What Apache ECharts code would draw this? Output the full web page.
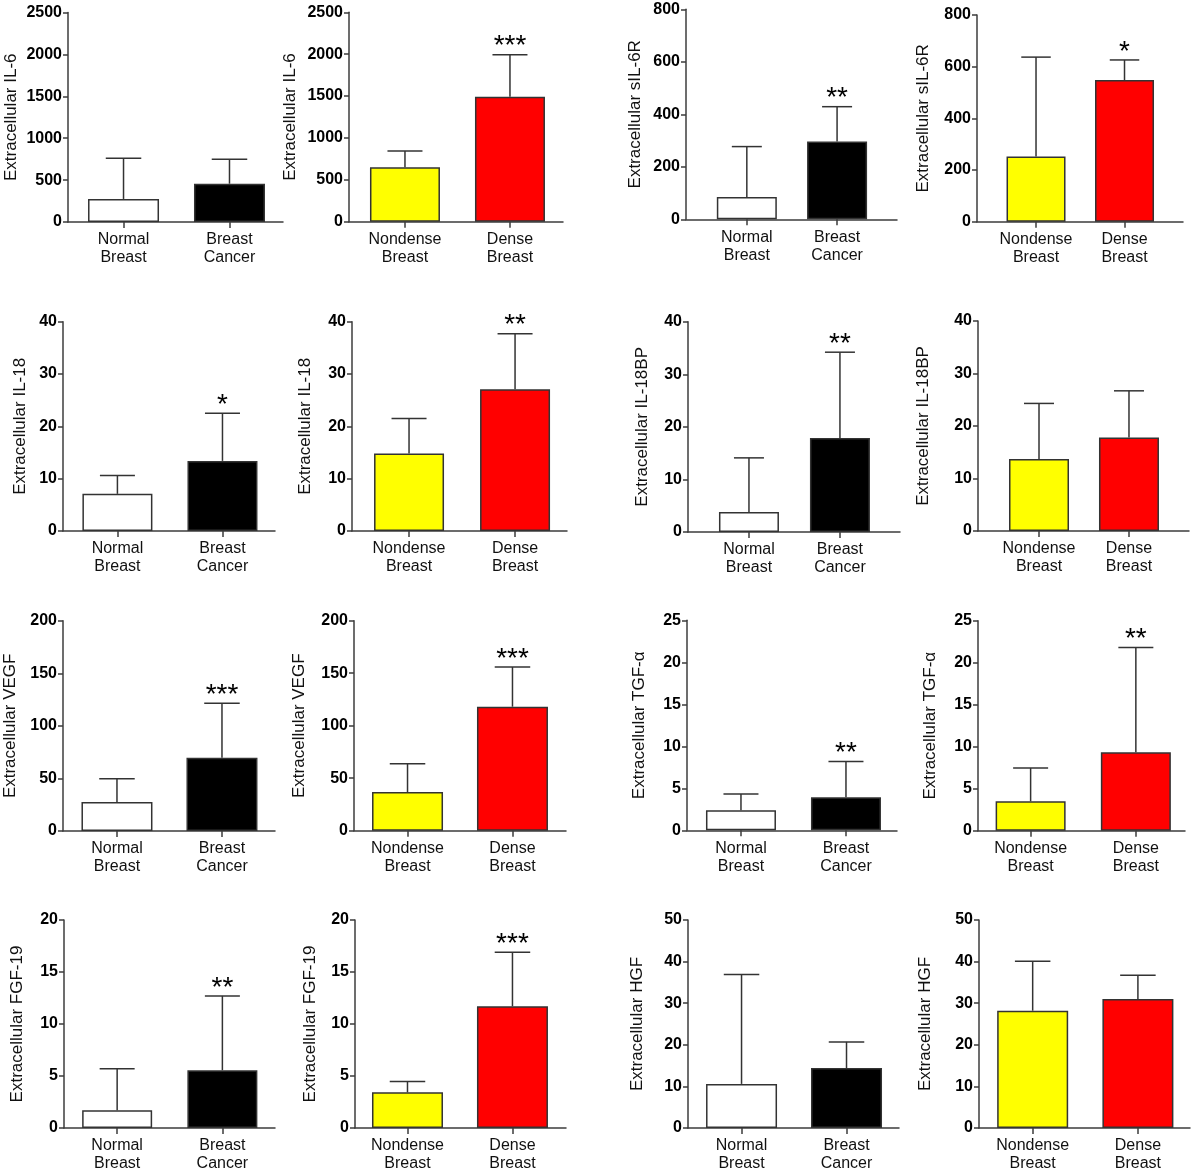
<!DOCTYPE html>
<html><head><meta charset="utf-8">
<script src="https://cdn.jsdelivr.net/npm/echarts@6/dist/echarts.min.js"></script>
<style>html,body{margin:0;padding:0;background:#fff}#c{width:1192px;height:1173px}</style>
</head><body><div id="c"></div>
<script>
// ---- data ----
const yTitles = [
  'Extracellular IL-6','Extracellular IL-6','Extracellular sIL-6R','Extracellular sIL-6R',
  'Extracellular IL-18','Extracellular IL-18','Extracellular IL-18BP','Extracellular IL-18BP',
  'Extracellular VEGF','Extracellular VEGF','Extracellular TGF-α','Extracellular TGF-α',
  'Extracellular FGF-19','Extracellular FGF-19','Extracellular HGF','Extracellular HGF'
];
const categoriesCancer = ['Normal\nBreast', 'Breast\nCancer'];
const categoriesDensity = ['Nondense\nBreast', 'Dense\nBreast'];
const panelComparison = ['cancer','density','cancer','density','cancer','density','cancer','density',
  'cancer','density','cancer','density','cancer','density','cancer','density'];
const meanValues = [
  [275, 457], [650, 1493], [85, 296], [252, 548],
  [7.1, 13.4], [14.8, 27.1], [3.8, 17.9], [13.7, 17.8],
  [27.5, 69.6], [36.8, 118.1], [2.4, 3.93], [3.5, 9.33],
  [1.7, 5.56], [3.43, 11.7], [10.6, 14.4], [28.2, 31.0]
];
const upperErrorValues = [
  [761, 749], [845, 1994], [277, 429], [637, 626],
  [10.6, 22.5], [21.5, 37.7], [14.1, 34.2], [24.3, 26.7],
  [49.7, 121.5], [63.8, 155.9], [4.32, 8.2], [7.46, 21.8],
  [5.7, 12.7], [4.48, 16.9], [36.9, 20.7], [40.1, 36.7]
];
const significance = [
  ['', ''], ['', '***'], ['', '**'], ['', '*'],
  ['', '*'], ['', '**'], ['', '**'], ['', ''],
  ['', '***'], ['', '***'], ['', '**'], ['', '**'],
  ['', '**'], ['', '***'], ['', ''], ['', '']
];
const yMaxValues = [2500, 2500, 800, 800, 40, 40, 40, 40, 200, 200, 25, 25, 20, 20, 50, 50];
const yIntervals = [500, 500, 200, 200, 10, 10, 10, 10, 50, 50, 5, 5, 5, 5, 10, 10];
const colorsCancer = ['#ffffff', '#000000'];
const colorsDensity = ['#ffff00', '#ff0000'];

// ---- layout (pixels) ----
const axisX  = [68, 349, 686, 977, 63, 352, 688, 978, 63, 354, 687, 978, 64, 355, 688, 979];
const axisR  = [283, 563, 897, 1183, 275, 567, 900, 1189, 275, 566, 897, 1185, 275, 566, 899, 1190];
const axisT  = [12.5, 12.3, 9.3, 15, 321.7, 321.7, 321.7, 321, 620.7, 620.7, 620.3, 620.7, 920, 920, 920, 920];
const axisB  = [222, 221.7, 219.3, 221.7, 531, 531, 532, 531, 831, 830.7, 830.3, 830.7, 1130, 1130, 1130, 1130];
const barW   = [71, 70, 60, 59, 70, 70, 60, 60, 71, 71, 70, 70, 70, 71, 71, 71];
const xMinP  = [-0.524, -0.533, -0.674, -0.667, -0.518, -0.538, -0.67, -0.678, -0.514, -0.51, -0.514, -0.5, -0.505, -0.5, -0.51, -0.51];
const xMaxP  = [1.505, 1.505, 1.664, 1.661, 1.5, 1.49, 1.66, 1.667, 1.505, 1.51, 1.486, 1.467, 1.5, 1.51, 1.5, 1.495];
const nameGaps = [48, 50, 42, 45, 34, 38, 37, 46, 44, 46, 39, 39, 38, 36, 42, 45];

const FONT = '"Liberation Sans", Arial, Helvetica, sans-serif';
const AXIS_COLOR = '#3c3c3c';

const grid = [], xAxis = [], yAxis = [], series = [];
for (let i = 0; i < 16; i++) {
  const cats = panelComparison[i] === 'cancer' ? categoriesCancer : categoriesDensity;
  const cols = panelComparison[i] === 'cancer' ? colorsCancer : colorsDensity;
  grid.push({ left: axisX[i], top: axisT[i], width: axisR[i] - axisX[i], height: axisB[i] - axisT[i] });
  xAxis.push({
    type: 'value', gridIndex: i, min: xMinP[i], max: xMaxP[i],
    axisLine: { show: true, onZero: false, lineStyle: { color: AXIS_COLOR, width: 1.5 } },
    axisTick: { show: true, customValues: [0, 1], length: 6, lineStyle: { color: AXIS_COLOR, width: 1.5 } },
    axisLabel: {
      customValues: [0, 1], formatter: v => cats[Math.round(v)] || '',
      margin: 9, fontSize: 16, lineHeight: 18, color: '#111', fontFamily: FONT
    },
    splitLine: { show: false }
  });
  yAxis.push({
    type: 'value', gridIndex: i, min: 0, max: yMaxValues[i], interval: yIntervals[i],
    name: yTitles[i], nameLocation: 'middle', nameGap: nameGaps[i],
    nameTextStyle: { fontSize: 17, color: '#111', fontFamily: FONT },
    axisLine: { show: true, onZero: false, lineStyle: { color: AXIS_COLOR, width: 1.5 } },
    axisTick: { show: true, length: 5, lineStyle: { color: AXIS_COLOR, width: 1.5 } },
    axisLabel: { fontSize: 16, fontWeight: 'bold', color: '#000', fontFamily: FONT, margin: 6,
      formatter: v => String(v) },
    splitLine: { show: false }
  });
  series.push({
    type: 'bar', xAxisIndex: i, yAxisIndex: i, barWidth: barW[i], silent: true, z: 2,
    data: meanValues[i].map((v, j) => ({ value: [j, v], itemStyle: { color: cols[j] } })),
    itemStyle: { borderColor: '#333', borderWidth: 1.5 }
  });
  const stars = significance[i];
  const capHalf = barW[i] * 0.25;
  series.push({
    type: 'custom', xAxisIndex: i, yAxisIndex: i, silent: true, z: 3,
    data: meanValues[i].map((v, j) => [j, v, upperErrorValues[i][j]]),
    encode: { x: 0, y: [1, 2] },
    renderItem: (params, api) => {
      const x = api.value(0);
      const base = api.coord([x, api.value(1)]);
      const top = api.coord([x, api.value(2)]);
      const st = { stroke: '#333', lineWidth: 1.5 };
      const children = [
        { type: 'line', shape: { x1: base[0], y1: base[1], x2: top[0], y2: top[1] }, style: st },
        { type: 'line', shape: { x1: top[0] - capHalf, y1: top[1], x2: top[0] + capHalf, y2: top[1] }, style: st }
      ];
      const s = stars[params.dataIndex];
      if (s) {
        children.push({ type: 'text', x: top[0], y: top[1] - 8,
          style: { text: s, fontSize: 28, fontFamily: FONT, fill: '#000', align: 'center', verticalAlign: 'middle' } });
      }
      return { type: 'group', children };
    }
  });
}

const chart = echarts.init(document.getElementById('c'), null, { renderer: 'canvas' });
chart.setOption({ animation: false, backgroundColor: '#fff', grid, xAxis, yAxis, series });
</script></body></html>
